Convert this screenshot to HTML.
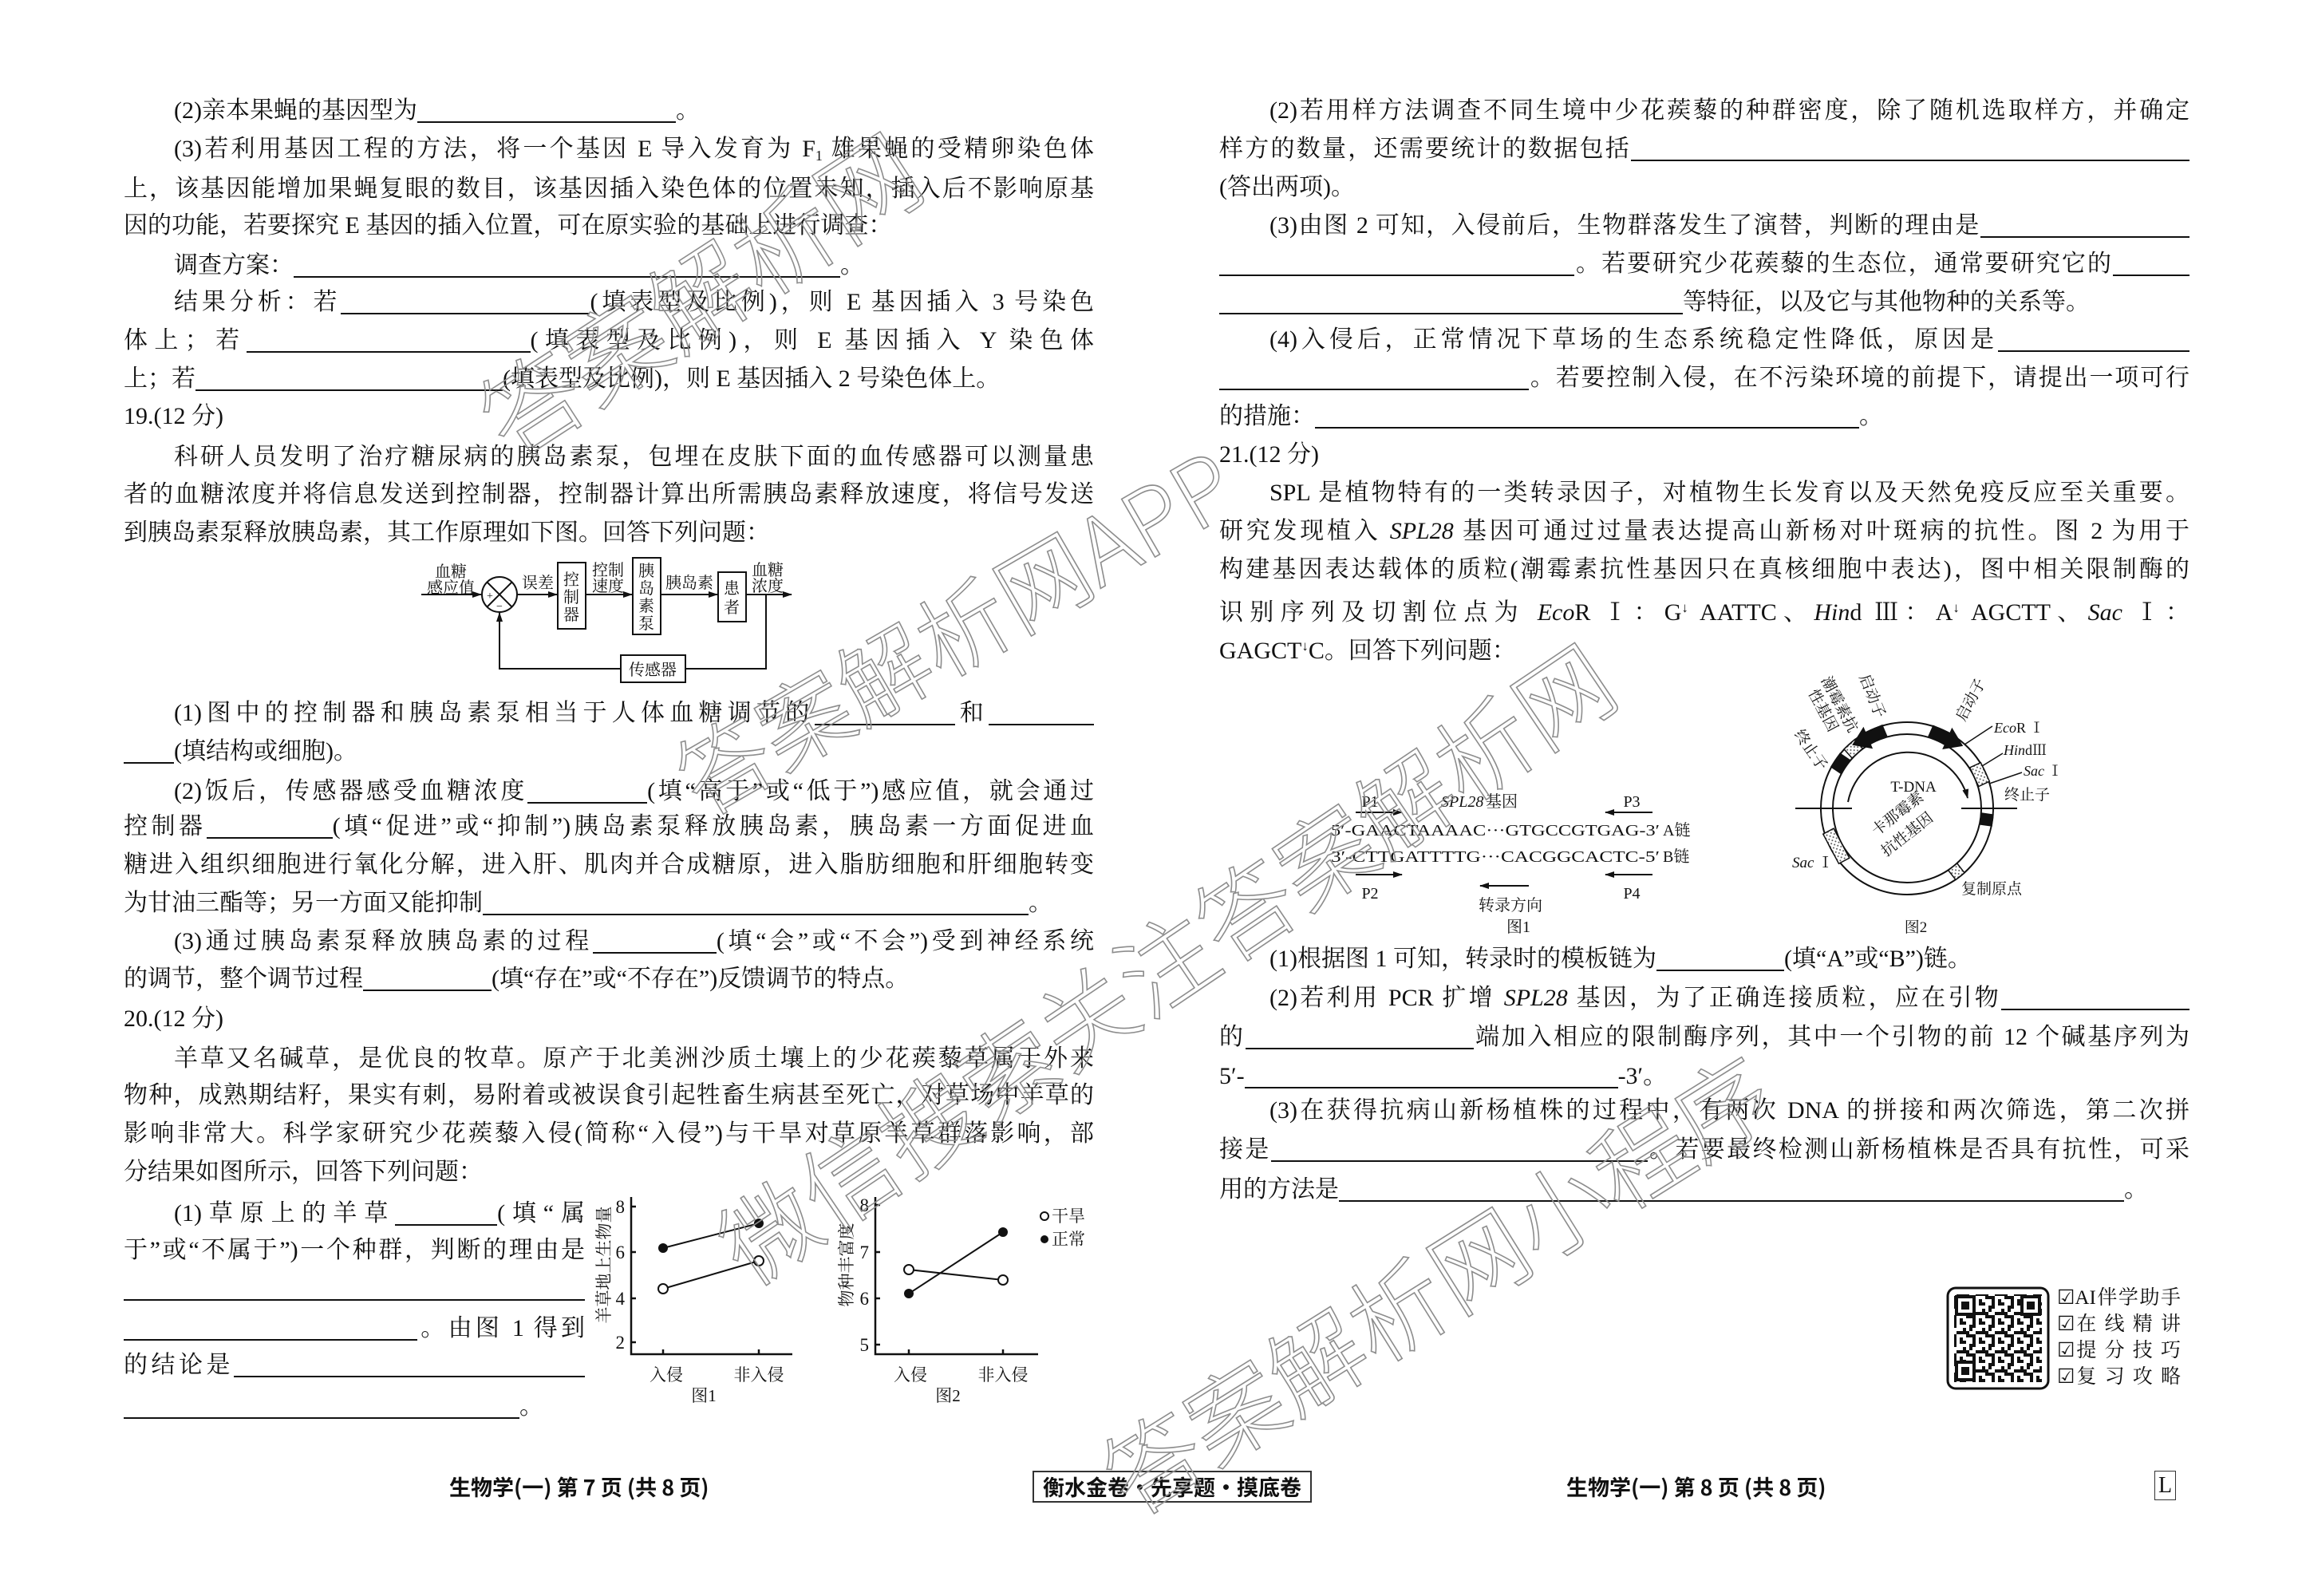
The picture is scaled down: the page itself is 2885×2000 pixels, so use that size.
<!DOCTYPE html>
<html><head><meta charset="utf-8">
<style>
html,body{margin:0;padding:0;background:#fff}
body{width:2885px;height:2000px;position:relative;overflow:hidden;color:#111;font-family:"Liberation Serif","Noto Serif CJK SC",serif}
.l{position:absolute;height:40px;line-height:40px;font-size:30px;white-space:nowrap}
.j{text-align:justify;text-align-last:justify;white-space:normal;height:40px;overflow:visible}
u{display:inline-block;border-bottom:2px solid #111;height:30px;vertical-align:-6px;text-decoration:none}
.wm{position:absolute;font-family:"Noto Sans CJK SC",sans-serif;font-weight:300;color:rgba(255,255,255,0);-webkit-text-stroke:1.6px #8d8d8d;white-space:nowrap;z-index:5}
.ft{position:absolute;font-family:"Noto Sans CJK SC",sans-serif;font-weight:bold;font-size:27px;line-height:36px;white-space:nowrap}
sub{font-size:18px;vertical-align:-5px}
.ar{font-size:17px;vertical-align:10px}
svg text{font-family:"Liberation Serif","Noto Serif CJK SC",serif;fill:#111}
</style></head><body>

<!-- LEFT COLUMN -->
<div class="l" style="top:119px;left:218px">(2)亲本果蝇的基因型为<u style="width:324px"></u>。</div>
<div class="l j" style="top:167px;left:218px;width:1153px">(3)若利用基因工程的方法，将一个基因 E 导入发育为 F<sub>1</sub> 雄果蝇的受精卵染色体</div>
<div class="l j" style="top:217px;left:155px;width:1216px">上，该基因能增加果蝇复眼的数目，该基因插入染色体的位置未知，插入后不影响原基</div>
<div class="l" style="top:263px;left:155px">因的功能，若要探究 E 基因的插入位置，可在原实验的基础上进行调查：</div>
<div class="l" style="top:313px;left:218px">调查方案：<u style="width:685px"></u>。</div>
<div class="l j" style="top:359px;left:218px;width:1153px">结果分析：若<u style="width:312px"></u>(填表型及比例)，则 E 基因插入 3 号染色</div>
<div class="l j" style="top:407px;left:155px;width:1216px">体上；若<u style="width:356px"></u>(填表型及比例)，则 E 基因插入 Y 染色体</div>
<div class="l" style="top:455px;left:155px">上；若<u style="width:385px"></u>(填表型及比例)，则 E 基因插入 2 号染色体上。</div>
<div class="l" style="top:502px;left:155px">19.(12 分)</div>
<div class="l j" style="top:553px;left:218px;width:1153px">科研人员发明了治疗糖尿病的胰岛素泵，包埋在皮肤下面的血传感器可以测量患</div>
<div class="l j" style="top:600px;left:155px;width:1216px">者的血糖浓度并将信息发送到控制器，控制器计算出所需胰岛素释放速度，将信号发送</div>
<div class="l" style="top:648px;left:155px">到胰岛素泵释放胰岛素，其工作原理如下图。回答下列问题：</div>

<div class="l j" style="top:874px;left:218px;width:1153px">(1)图中的控制器和胰岛素泵相当于人体血糖调节的<u style="width:176px"></u>和<u style="width:132px"></u></div>
<div class="l" style="top:922px;left:155px"><u style="width:63px"></u>(填结构或细胞)。</div>
<div class="l j" style="top:972px;left:218px;width:1153px">(2)饭后，传感器感受血糖浓度<u style="width:150px"></u>(填“高于”或“低于”)感应值，就会通过</div>
<div class="l j" style="top:1016px;left:155px;width:1216px">控制器<u style="width:158px"></u>(填“促进”或“抑制”)胰岛素泵释放胰岛素，胰岛素一方面促进血</div>
<div class="l j" style="top:1064px;left:155px;width:1216px">糖进入组织细胞进行氧化分解，进入肝、肌肉并合成糖原，进入脂肪细胞和肝细胞转变</div>
<div class="l" style="top:1112px;left:155px">为甘油三酯等；另一方面又能抑制<u style="width:684px"></u>。</div>
<div class="l j" style="top:1160px;left:218px;width:1153px">(3)通过胰岛素泵释放胰岛素的过程<u style="width:155px"></u>(填“会”或“不会”)受到神经系统</div>
<div class="l" style="top:1207px;left:155px">的调节，整个调节过程<u style="width:161px"></u>(填“存在”或“不存在”)反馈调节的特点。</div>
<div class="l" style="top:1257px;left:155px">20.(12 分)</div>
<div class="l j" style="top:1307px;left:218px;width:1153px">羊草又名碱草，是优良的牧草。原产于北美洲沙质土壤上的少花蒺藜草属于外来</div>
<div class="l j" style="top:1353px;left:155px;width:1216px">物种，成熟期结籽，果实有刺，易附着或被误食引起牲畜生病甚至死亡，对草场中羊草的</div>
<div class="l j" style="top:1401px;left:155px;width:1216px">影响非常大。科学家研究少花蒺藜入侵(简称“入侵”)与干旱对草原羊草群落影响，部</div>
<div class="l" style="top:1449px;left:155px">分结果如图所示，回答下列问题：</div>
<div class="l j" style="top:1501px;left:218px;width:515px">(1)草原上的羊草<u style="width:128px"></u>(填“属</div>
<div class="l j" style="top:1547px;left:155px;width:578px">于”或“不属于”)一个种群，判断的理由是</div>
<div class="l" style="top:1595px;left:155px"><u style="width:578px"></u></div>
<div class="l j" style="top:1645px;left:155px;width:578px"><u style="width:368px"></u>。由图 1 得到</div>
<div class="l j" style="top:1691px;left:155px;width:578px">的结论是<u style="width:440px"></u></div>
<div class="l" style="top:1743px;left:155px"><u style="width:496px"></u>。</div>

<!-- RIGHT COLUMN -->
<div class="l j" style="top:119px;left:1591px;width:1153px">(2)若用样方法调查不同生境中少花蒺藜的种群密度，除了随机选取样方，并确定</div>
<div class="l j" style="top:167px;left:1528px;width:1216px">样方的数量，还需要统计的数据包括<u style="width:700px"></u></div>
<div class="l" style="top:215px;left:1528px">(答出两项)。</div>
<div class="l j" style="top:263px;left:1591px;width:1153px">(3)由图 2 可知，入侵前后，生物群落发生了演替，判断的理由是<u style="width:262px"></u></div>
<div class="l j" style="top:311px;left:1528px;width:1216px"><u style="width:445px"></u>。若要研究少花蒺藜的生态位，通常要研究它的<u style="width:96px"></u></div>
<div class="l" style="top:359px;left:1528px"><u style="width:581px"></u>等特征，以及它与其他物种的关系等。</div>
<div class="l j" style="top:406px;left:1591px;width:1153px">(4)入侵后，正常情况下草场的生态系统稳定性降低，原因是<u style="width:240px"></u></div>
<div class="l j" style="top:454px;left:1528px;width:1216px"><u style="width:388px"></u>。若要控制入侵，在不污染环境的前提下，请提出一项可行</div>
<div class="l" style="top:502px;left:1528px">的措施：<u style="width:682px"></u>。</div>
<div class="l" style="top:550px;left:1528px">21.(12 分)</div>
<div class="l j" style="top:598px;left:1591px;width:1153px">SPL 是植物特有的一类转录因子，对植物生长发育以及天然免疫反应至关重要。</div>
<div class="l j" style="top:646px;left:1528px;width:1216px">研究发现植入 <i>SPL28</i> 基因可通过过量表达提高山新杨对叶斑病的抗性。图 2 为用于</div>
<div class="l j" style="top:694px;left:1528px;width:1216px">构建基因表达载体的质粒(潮霉素抗性基因只在真核细胞中表达)，图中相关限制酶的</div>
<div class="l j" style="top:742px;left:1528px;width:1216px">识别序列及切割位点为 <i>Eco</i>R Ⅰ：G<span class="ar">↓</span> AATTC、<i>Hin</i>d Ⅲ：A<span class="ar">↓</span> AGCTT、<i>Sac</i> Ⅰ：</div>
<div class="l" style="top:790px;left:1528px">GAGCT<span class="ar">↓</span>C。回答下列问题：</div>

<div class="l" style="top:1182px;left:1591px">(1)根据图 1 可知，转录时的模板链为<u style="width:160px"></u>(填“A”或“B”)链。</div>
<div class="l j" style="top:1231px;left:1591px;width:1153px">(2)若利用 PCR 扩增 <i>SPL28</i> 基因，为了正确连接质粒，应在引物<u style="width:236px"></u></div>
<div class="l j" style="top:1280px;left:1528px;width:1216px">的<u style="width:286px"></u>端加入相应的限制酶序列，其中一个引物的前 12 个碱基序列为</div>
<div class="l" style="top:1329px;left:1528px">5′-<u style="width:468px"></u>-3′。</div>
<div class="l j" style="top:1372px;left:1591px;width:1153px">(3)在获得抗病山新杨植株的过程中，有两次 DNA 的拼接和两次筛选，第二次拼</div>
<div class="l j" style="top:1421px;left:1528px;width:1216px">接是<u style="width:472px"></u>。若要最终检测山新杨植株是否具有抗性，可采</div>
<div class="l" style="top:1471px;left:1528px">用的方法是<u style="width:984px"></u>。</div>

<!-- QR labels -->
<div style="position:absolute;left:2578px;top:1610px;width:155px;font-size:25px;line-height:33px;font-family:'Liberation Serif','Noto Serif CJK SC',serif">
<div style="text-align:justify;text-align-last:justify">☑AI伴学助手</div>
<div style="text-align:justify;text-align-last:justify">☑在 线 精 讲</div>
<div style="text-align:justify;text-align-last:justify">☑提 分 技 巧</div>
<div style="text-align:justify;text-align-last:justify">☑复 习 攻 略</div>
</div>

<!-- Footer -->
<div class="ft" style="left:563px;top:1845px">生物学(一) 第 7 页 (共 8 页)</div>
<div class="ft" style="left:1294px;top:1843px;width:346px;height:36px;border:2px solid #333;text-align:center">衡水金卷·先享题·摸底卷</div>
<div class="ft" style="left:1963px;top:1845px">生物学(一) 第 8 页 (共 8 页)</div>
<div style="position:absolute;left:2700px;top:1843px;width:25px;height:35px;border:1.5px solid #333;font-size:28px;line-height:35px;text-align:center">L</div>

<svg width="2885" height="2000" style="position:absolute;left:0;top:0" xmlns="http://www.w3.org/2000/svg">
<defs>
<marker id="ah" markerWidth="12" markerHeight="10" refX="11" refY="5" orient="auto" markerUnits="userSpaceOnUse"><path d="M0,1 L12,5 L0,9 z" fill="#111"/></marker>
<pattern id="dots" width="6" height="6" patternUnits="userSpaceOnUse"><rect width="6" height="6" fill="#fff"/><circle cx="1.5" cy="1.5" r="1" fill="#555"/><circle cx="4.5" cy="4.5" r="1" fill="#555"/></pattern>
<pattern id="qr" width="24" height="24" patternUnits="userSpaceOnUse">
<rect width="24" height="24" fill="#fff"/>
<rect x="0" y="0" width="4" height="8" fill="#111"/><rect x="8" y="0" width="8" height="4" fill="#111"/><rect x="20" y="4" width="4" height="8" fill="#111"/>
<rect x="4" y="12" width="8" height="4" fill="#111"/><rect x="12" y="8" width="4" height="8" fill="#111"/><rect x="0" y="16" width="4" height="8" fill="#111"/>
<rect x="16" y="16" width="8" height="4" fill="#111"/><rect x="8" y="20" width="4" height="4" fill="#111"/><rect x="16" y="12" width="4" height="4" fill="#111"/>
</pattern>
</defs>

<!-- Flow diagram -->
<g stroke="#111" stroke-width="2" fill="none">
<line x1="528" y1="745" x2="603" y2="745" marker-end="url(#ah)"/>
<circle cx="626" cy="745" r="22"/>
<line x1="610" y1="729" x2="642" y2="761"/><line x1="642" y1="729" x2="610" y2="761"/>
<line x1="648" y1="745" x2="698" y2="745" marker-end="url(#ah)"/>
<rect x="699" y="705" width="35" height="83"/>
<line x1="734" y1="745" x2="792" y2="745" marker-end="url(#ah)"/>
<rect x="793" y="699" width="35" height="96"/>
<line x1="828" y1="745" x2="899" y2="745" marker-end="url(#ah)"/>
<rect x="900" y="717" width="35" height="62"/>
<line x1="935" y1="745" x2="992" y2="745" marker-end="url(#ah)"/>
<polyline points="960,745 960,838 859,838"/>
<rect x="778" y="821" width="81" height="34"/>
<polyline points="778,838 626,838 626,768" marker-end="url(#ah)"/>
</g>
<g font-size="20" text-anchor="middle">
<text x="565" y="723">血糖</text><text x="565" y="743">感应值</text>
<text x="614" y="751" font-size="14">+</text><text x="626" y="764" font-size="14">−</text>
<text x="674" y="737">误差</text>
<text x="716" y="733">控</text><text x="716" y="755">制</text><text x="716" y="777">器</text>
<text x="762" y="721">控制</text><text x="762" y="741">速度</text>
<text x="810" y="722">胰</text><text x="810" y="744">岛</text><text x="810" y="766">素</text><text x="810" y="788">泵</text>
<text x="864" y="737">胰岛素</text>
<text x="917" y="744">患</text><text x="917" y="768">者</text>
<text x="962" y="721">血糖</text><text x="962" y="741">浓度</text>
<text x="818" y="846">传感器</text>
</g>

<!-- Chart 1 -->
<g stroke="#111" stroke-width="2.5" fill="none">
<polyline points="791,1500 791,1697 993,1697"/>
<line x1="791" y1="1512" x2="797" y2="1512"/><line x1="791" y1="1569" x2="797" y2="1569"/><line x1="791" y1="1627" x2="797" y2="1627"/><line x1="791" y1="1682" x2="797" y2="1682"/>
<line x1="831" y1="1697" x2="831" y2="1691"/><line x1="951" y1="1697" x2="951" y2="1691"/>
<line x1="831" y1="1564" x2="951" y2="1533" stroke-width="2"/>
<line x1="831" y1="1615" x2="951" y2="1580" stroke-width="2"/>
</g>
<circle cx="831" cy="1564" r="6" fill="#111"/><circle cx="951" cy="1533" r="6" fill="#111"/>
<circle cx="831" cy="1615" r="6" fill="#fff" stroke="#111" stroke-width="2"/><circle cx="951" cy="1580" r="6" fill="#fff" stroke="#111" stroke-width="2"/>
<g font-size="23" text-anchor="end">
<text x="783" y="1520">8</text><text x="783" y="1577">6</text><text x="783" y="1635">4</text><text x="783" y="1690">2</text>
<text x="1089" y="1518">8</text><text x="1089" y="1577">7</text><text x="1089" y="1635">6</text><text x="1089" y="1693">5</text>
</g>
<text font-size="21" text-anchor="middle" transform="translate(764,1585) rotate(-90)">羊草地上生物量</text>
<g font-size="21" text-anchor="middle">
<text x="835" y="1730">入侵</text><text x="951" y="1730">非入侵</text><text x="882" y="1756">图1</text>
<text x="1141" y="1730">入侵</text><text x="1257" y="1730">非入侵</text><text x="1188" y="1756">图2</text>
</g>
<!-- Chart 2 -->
<g stroke="#111" stroke-width="2.5" fill="none">
<polyline points="1097,1500 1097,1697 1301,1697"/>
<line x1="1097" y1="1510" x2="1103" y2="1510"/><line x1="1097" y1="1569" x2="1103" y2="1569"/><line x1="1097" y1="1627" x2="1103" y2="1627"/><line x1="1097" y1="1685" x2="1103" y2="1685"/>
<line x1="1139" y1="1697" x2="1139" y2="1691"/><line x1="1257" y1="1697" x2="1257" y2="1691"/>
<line x1="1139" y1="1591" x2="1257" y2="1604" stroke-width="2"/>
<line x1="1139" y1="1621" x2="1257" y2="1544" stroke-width="2"/>
</g>
<circle cx="1139" cy="1591" r="6" fill="#fff" stroke="#111" stroke-width="2"/><circle cx="1257" cy="1604" r="6" fill="#fff" stroke="#111" stroke-width="2"/>
<circle cx="1139" cy="1621" r="6" fill="#111"/><circle cx="1257" cy="1544" r="6" fill="#111"/>
<circle cx="1309" cy="1524" r="5" fill="#fff" stroke="#111" stroke-width="2"/><circle cx="1309" cy="1553" r="5" fill="#111"/>
<text x="1318" y="1531" font-size="21">干旱</text><text x="1318" y="1560" font-size="21">正常</text>
<text font-size="21" text-anchor="middle" transform="translate(1068,1585) rotate(-90)">物种丰富度</text>

<!-- Gene figure 1 -->
<g font-size="20">
<text x="1717" y="1011" text-anchor="middle">P1</text>
<text x="1806" y="1011" font-style="italic">SPL28</text><text x="1862" y="1011">基因</text>
<text x="2045" y="1011" text-anchor="middle">P3</text>
<text x="1668" y="1047" textLength="412" lengthAdjust="spacingAndGlyphs">5′-GAACTAAAAC···GTGCCGTGAG-3′</text><text x="2084" y="1047">A链</text>
<text x="1668" y="1080" textLength="412" lengthAdjust="spacingAndGlyphs">3′-CTTGATTTTG···CACGGCACTC-5′</text><text x="2084" y="1080">B链</text>
<text x="1717" y="1126" text-anchor="middle">P2</text>
<text x="2045" y="1126" text-anchor="middle">P4</text>
<text x="1893" y="1141" text-anchor="middle">转录方向</text>
<text x="1903" y="1168" text-anchor="middle">图1</text>
</g>
<g stroke="#111" stroke-width="2">
<line x1="1699" y1="1018" x2="1757" y2="1018" marker-end="url(#ah)"/>
<line x1="2071" y1="1018" x2="2012" y2="1018" marker-end="url(#ah)"/>
<line x1="1699" y1="1096" x2="1757" y2="1096" marker-end="url(#ah)"/>
<line x1="2071" y1="1096" x2="2012" y2="1096" marker-end="url(#ah)"/>
<line x1="1916" y1="1110" x2="1855" y2="1110" marker-end="url(#ah)"/>
</g>

<!-- Plasmid figure 2 -->
<g stroke="#111" stroke-width="2" fill="none">
<circle cx="2390" cy="1013" r="108"/>
<circle cx="2390" cy="1013" r="93"/>
<line x1="2250" y1="1013" x2="2321" y2="1013"/>
<line x1="2458" y1="1013" x2="2528" y2="1013"/>
<path d="M2316,1005 A77,77 0 0 1 2466,1000" marker-end="url(#ah)"/>
<line x1="2462" y1="933" x2="2497" y2="910" stroke-width="1.5"/>
<line x1="2484" y1="960" x2="2510" y2="944" stroke-width="1.5"/>
<line x1="2493" y1="982" x2="2534" y2="968" stroke-width="1.5"/>
</g>
<g stroke="#111" stroke-width="1.5">
<rect x="2483" y="1003" width="15" height="20" fill="#111" transform="rotate(-146 2390 1013)"/>
<rect x="2483" y="1004" width="15" height="18" fill="url(#dots)" transform="rotate(-132 2390 1013)"/>
<polygon points="2483,1025 2498,1025 2498,1002 2504,1002 2490,982 2477,1002 2483,1002" fill="#111" transform="rotate(-113 2390 1013)"/>
<polygon points="2483,1001 2498,1001 2498,1024 2504,1024 2490,1044 2477,1024 2483,1024" fill="#111" transform="rotate(-66 2390 1013)"/>
<rect x="2483" y="1000" width="15" height="26" fill="url(#dots)" transform="rotate(-25 2390 1013)"/>
<rect x="2483" y="1006" width="15" height="14" fill="#111" transform="rotate(8 2390 1013)"/>
<rect x="2483" y="992" width="15" height="42" fill="url(#dots)" transform="rotate(-208 2390 1013)"/>
<rect x="2483" y="1006" width="15" height="14" fill="url(#dots)" transform="rotate(52 2390 1013)"/>
</g>
<g font-size="19">
<text transform="translate(2282,852) rotate(62)">潮霉素抗</text>
<text transform="translate(2266,868) rotate(62)">性基因</text>
<text transform="translate(2330,848) rotate(68)">启动子</text>
<text transform="translate(2462,905) rotate(-62)">启动子</text>
<text transform="translate(2248,920) rotate(55)">终止子</text>
<text x="2499" y="918" font-style="italic" font-size="18">Eco<tspan font-style="normal">R Ⅰ</tspan></text>
<text x="2511" y="946" font-style="italic" font-size="18">Hin<tspan font-style="normal">dⅢ</tspan></text>
<text x="2536" y="972" font-style="italic" font-size="18">Sac<tspan font-style="normal"> Ⅰ</tspan></text>
<text x="2512" y="1002">终止子</text>
<text x="2398" y="992" text-anchor="middle">T-DNA</text>
<text transform="translate(2352,1048) rotate(-38)">卡那霉素</text>
<text transform="translate(2364,1074) rotate(-38)">抗性基因</text>
<text x="2246" y="1087" font-style="italic">Sac<tspan font-style="normal"> Ⅰ</tspan></text>
<text x="2458" y="1120">复制原点</text>
<text x="2401" y="1168" text-anchor="middle">图2</text>
</g>

<!-- QR -->
<rect x="2441" y="1614" width="126" height="126" rx="10" fill="#fff" stroke="#111" stroke-width="3"/>
<rect x="2449" y="1622" width="110" height="110" fill="url(#qr)"/>
<g fill="#fff" stroke="#111" stroke-width="4">
<rect x="2452" y="1625" width="22" height="22"/><rect x="2534" y="1625" width="22" height="22"/><rect x="2452" y="1707" width="22" height="22"/>
</g>
<g fill="#111"><rect x="2458" y="1631" width="10" height="10"/><rect x="2540" y="1631" width="10" height="10"/><rect x="2458" y="1713" width="10" height="10"/></g>
</svg>

<!-- Watermarks -->
<div class="wm" style="left:611px;top:472px;font-size:125px;line-height:125px;transform-origin:0 62px;transform:rotate(-33deg)">答案解析网</div>
<div class="wm" style="left:856px;top:926px;font-size:115px;line-height:115px;transform-origin:0 57px;transform:rotate(-30deg)">答案解析网APP</div>
<div class="wm" style="left:911px;top:1511px;font-size:120px;line-height:120px;transform-origin:0 60px;transform:rotate(-34deg)">微信搜索关注答案解析网</div>
<div class="wm" style="left:1392px;top:1799px;font-size:120px;line-height:120px;transform-origin:0 60px;transform:rotate(-32deg)">答案解析网小程序</div>

</body></html>
